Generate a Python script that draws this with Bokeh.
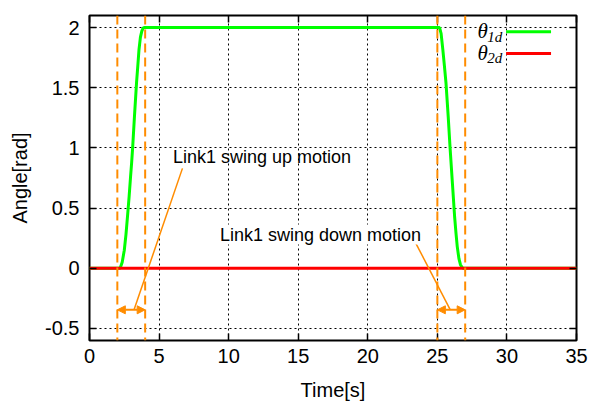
from bokeh.plotting import figure
from bokeh.models import Range1d, LinearAxis, FixedTicker, Label, Arrow, NormalHead, Span
from bokeh.embed import file_html
from bokeh.resources import INLINE

# ---- data ----
time_1d = [0.0, 2.0, 2.2, 2.35, 2.5, 2.62, 2.73, 2.85, 2.95, 3.03, 3.1, 3.23, 3.38, 3.47, 3.56, 3.66,
           3.76, 3.85, 3.93, 4.0, 25.0, 25.16, 25.27, 25.39, 25.5, 25.62, 25.78, 25.92, 26.08,
           26.24, 26.34, 26.43, 26.55, 26.66, 26.76, 26.84, 27.0, 35.0]
theta_1d = [0.0, 0.0, 0.0, 0.05, 0.15, 0.28, 0.43, 0.6, 0.76, 0.88, 1.0, 1.26, 1.54, 1.68, 1.82, 1.92,
            1.97, 1.995, 2.0, 2.0, 2.0, 2.0, 1.95, 1.82, 1.69, 1.54, 1.26, 0.99, 0.71,
            0.43, 0.29, 0.18, 0.08, 0.03, 0.01, 0.0, 0.0, 0.0]
time_2d = [0.0, 35.0]
theta_2d = [0.0, 0.0]

swing_up = [2.0, 4.0]
swing_down = [25.0, 27.0]
swing_up_label = "Link1 swing up motion"
swing_down_label = "Link1 swing down motion"

x_ticks = [0, 5, 10, 15, 20, 25, 30, 35]
y_ticks = [-0.5, 0, 0.5, 1, 1.5, 2]
y_tick_labels = ["-0.5", "0", "0.5", "1", "1.5", "2"]

ORANGE = "#ff8c00"
FONT = "Liberation Sans"
SERIF = "Liberation Serif"

p = figure(width=591, height=405, x_range=Range1d(0, 35), y_range=Range1d(-0.6, 2.1),
           output_backend="svg", toolbar_location=None,
           min_border_left=89, min_border_right=15, min_border_top=15, min_border_bottom=65)
p.background_fill_color = "white"
p.border_fill_color = "white"
p.outline_line_color = "black"
p.outline_line_width = 2
p.outline_line_alpha = 1

# axes
for ax in (p.xaxis[0], p.yaxis[0]):
    ax.axis_line_color = None
    ax.major_tick_in = 7
    ax.major_tick_out = 0
    ax.major_tick_line_color = "black"
    ax.major_tick_line_width = 1.5
    ax.minor_tick_line_color = None
    ax.major_label_text_font = FONT
    ax.major_label_text_font_size = "20px"
    ax.major_label_text_color = "black"
    ax.axis_label_text_font = FONT
    ax.axis_label_text_font_size = "20px"
    ax.axis_label_text_font_style = "normal"
    ax.axis_label_text_color = "black"

p.xaxis[0].ticker = FixedTicker(ticks=x_ticks)
p.yaxis[0].ticker = FixedTicker(ticks=y_ticks)
p.yaxis[0].major_label_overrides = {t: s for t, s in zip(y_ticks, y_tick_labels)}
p.xaxis[0].axis_label = "Time[s]"
p.yaxis[0].axis_label = "Angle[rad]"
p.xaxis[0].major_label_standoff = 8
p.xaxis[0].axis_label_standoff = 13
p.yaxis[0].major_label_standoff = 10
p.yaxis[0].axis_label_standoff = 11

# mirror ticks on top and right (no labels)
top_axis = LinearAxis(ticker=FixedTicker(ticks=x_ticks),
                      major_label_overrides={t: "" for t in x_ticks},
                      major_tick_in=7, major_tick_out=0, major_tick_line_width=1.5,
                      axis_line_color=None, minor_tick_line_color=None, major_label_standoff=0)
right_axis = LinearAxis(ticker=FixedTicker(ticks=y_ticks),
                        major_label_overrides={t: "" for t in y_ticks},
                        major_tick_in=7, major_tick_out=0, major_tick_line_width=1.5,
                        axis_line_color=None, minor_tick_line_color=None, major_label_standoff=0)
p.add_layout(top_axis, "above")
p.add_layout(right_axis, "right")

# grid
p.xgrid.ticker = FixedTicker(ticks=x_ticks)
p.ygrid.ticker = FixedTicker(ticks=y_ticks)
for g in (p.xgrid[0], p.ygrid[0]):
    g.grid_line_color = "black"
    g.grid_line_dash = "2 3"
    g.grid_line_width = 1
    g.grid_line_alpha = 1

# series
p.line(time_1d, theta_1d, line_color="#00ff00", line_width=3)
p.line(time_2d, theta_2d, line_color="#ff0000", line_width=3)

# motion boundaries
for xv in swing_up + swing_down:
    p.add_layout(Span(location=xv, dimension="height", line_color=ORANGE,
                      line_width=2, line_dash="9 5"))

# double arrows
for seg in (swing_up, swing_down):
    p.add_layout(Arrow(x_start=seg[0], x_end=seg[1], y_start=-0.345, y_end=-0.345,
                       line_color=ORANGE, line_width=2,
                       start=NormalHead(size=8, fill_color=ORANGE, line_color=ORANGE),
                       end=NormalHead(size=8, fill_color=ORANGE, line_color=ORANGE)))

# leader lines
p.add_layout(Arrow(x_start=6.68, y_start=0.83, x_end=3.2, y_end=-0.345, end=None,
                   line_color=ORANGE, line_width=1.5))
p.add_layout(Arrow(x_start=23.4, y_start=0.22, x_end=25.93, y_end=-0.345, end=None,
                   line_color=ORANGE, line_width=1.5))

# annotation texts
p.add_layout(Label(x=6.0, y=0.925, text=swing_up_label, text_font=FONT, text_font_size="18px",
                   text_baseline="middle", text_align="left", text_color="black"))
p.add_layout(Label(x=9.38, y=0.28, text=swing_down_label, text_font=FONT, text_font_size="18px",
                   text_baseline="middle", text_align="left", text_color="black",
                   background_fill_color="white", background_fill_alpha=1.0))

# legend (label left of sample, gnuplot style)
legend_rows = [("1d", "#00ff00", 1.97), ("2d", "#ff0000", 1.79)]
for sub, col, yy in legend_rows:
    p.add_layout(Label(x=27.88, y=yy, text="θ", text_font=SERIF, text_font_style="italic",
                       text_font_size="21px", text_baseline="middle", text_align="left",
                       text_color="black"))
    p.add_layout(Label(x=28.58, y=yy - 0.045, text=sub, text_font=SERIF, text_font_style="italic",
                       text_font_size="15px", text_baseline="middle", text_align="left",
                       text_color="black"))
    p.add_layout(Arrow(x_start=29.94, x_end=33.17, y_start=yy - 0.005, y_end=yy - 0.005, end=None,
                       line_color=col, line_width=3))

open("out.html", "w").write(file_html(p, INLINE))
